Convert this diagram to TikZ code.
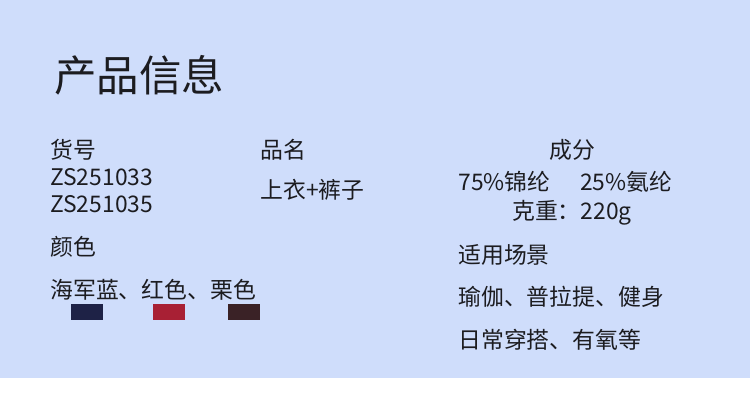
\documentclass[tikz,border=0pt]{standalone}
\usepackage{fontspec}
\setmainfont{Noto Sans CJK SC}
\definecolor{bgblue}{RGB}{207,221,251}
\definecolor{ink}{RGB}{28,28,32}
\definecolor{navy}{RGB}{30,34,70}
\definecolor{redswatch}{RGB}{168,32,52}
\definecolor{chestnut}{RGB}{58,34,38}
\tikzset{
  info/.style={anchor=west, inner sep=0pt, text=ink, font=\fontsize{13pt}{15pt}\selectfont},
  infoc/.style={info, anchor=center},
  title/.style={anchor=west, inner sep=0pt, text=ink, font=\fontsize{24.2pt}{27pt}\selectfont},
  swatch/.style={minimum width=0.64cm, minimum height=0.32cm, inner sep=0pt}
}
\begin{document}
\begin{tikzpicture}[x=0.02cm, y=-0.02cm]
\useasboundingbox (0,0) rectangle (750,406);
\fill[bgblue] (0,0) rectangle (750,378);
\fill[white] (0,378) rectangle (750,406);

\node (title) [title] at (54,75) {产品信息};

% left column
\node (itemno) [info] at (50,150) {货号};
\node (code1) [info] at (50,177) {ZS251033};
\node (code2) [info] at (50,204) {ZS251035};
\node (colour) [info] at (50,247) {颜色};
\node (colours) [info] at (50,290) {海军蓝、红色、栗色};
\node (navybox) [swatch, fill=navy] at (87,312) {};
\node (redbox) [swatch, fill=redswatch] at (169,312) {};
\node (brownbox) [swatch, fill=chestnut] at (244,312) {};

% middle column
\node (name) [info] at (260,150) {品名};
\node (product) [info] at (260,190) {上衣+裤子};

% right column
\node (fabric) [infoc] at (572,150) {成分};
\node (blend) [info] at (458,182) {75\%锦纶\hspace{1.3em}25\%氨纶};
\node (weight) [infoc] at (572,213) {克重：220g};
\node (scene) [info] at (458,255) {适用场景};
\node (sports) [info] at (458,297) {瑜伽、普拉提、健身};
\node (daily) [info] at (458,340) {日常穿搭、有氧等};
\end{tikzpicture}
\end{document}
